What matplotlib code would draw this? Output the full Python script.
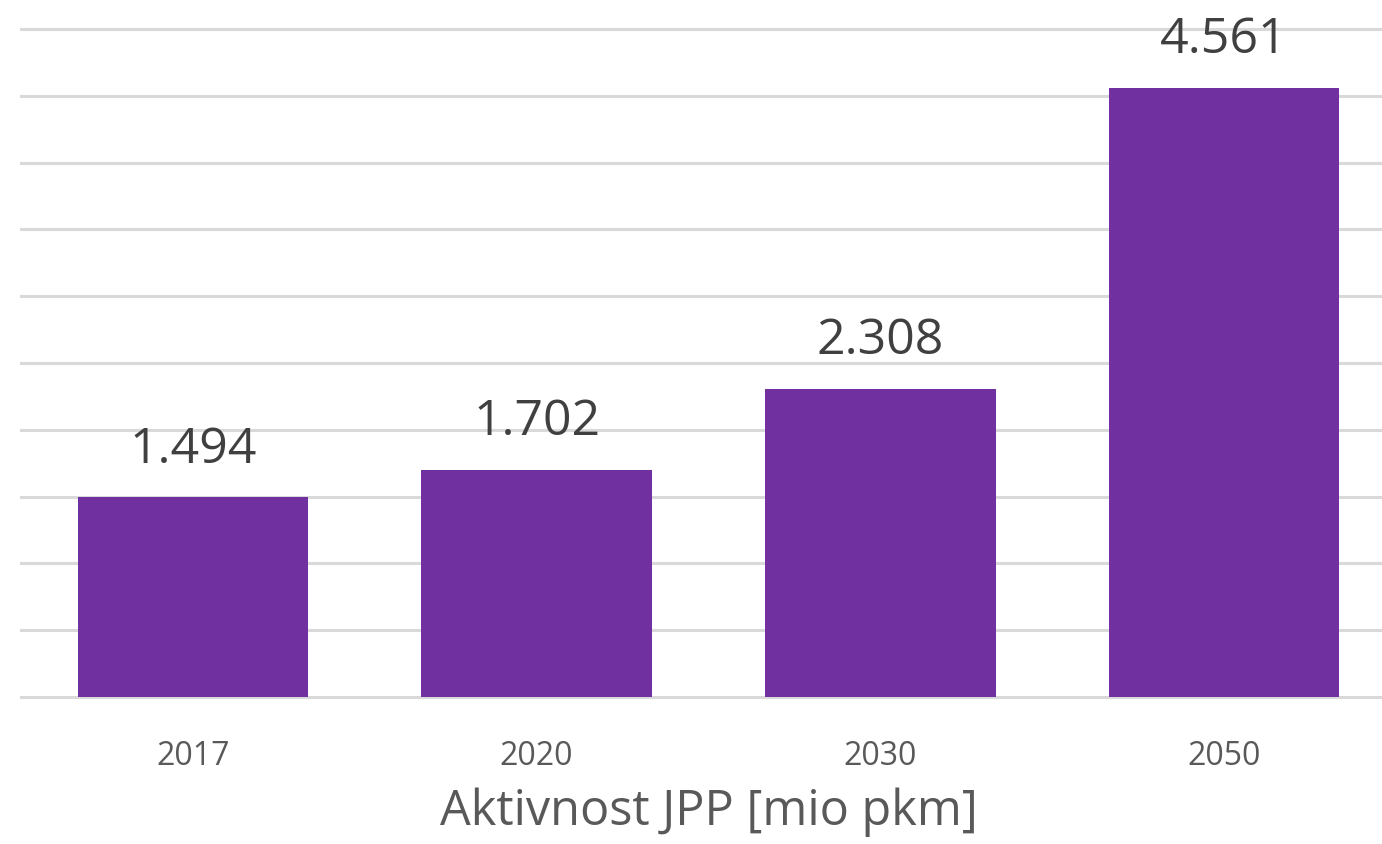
import matplotlib
matplotlib.use("Agg")
import matplotlib.pyplot as plt

categories = ["2017", "2020", "2030", "2050"]
values = [1.494, 1.702, 2.308, 4.561]
value_labels = ["1.494", "1.702", "2.308", "4.561"]
x_title = "Aktivnost JPP [mio pkm]"

plt.rcParams['font.family'] = ['Open Sans', 'DejaVu Sans']

W, H = 1382, 845
fig = plt.figure(figsize=(W / 100, H / 100), dpi=100)
left, right, bottom, top = 21, 1396, 698, 30
ax = fig.add_axes([left / W, (H - bottom) / H, (right - left) / W, (bottom - top) / H])

pos = list(range(len(categories)))
bars = ax.bar(pos, values, width=0.67, color="#7030A0", zorder=3)
ax.set_xlim(-0.5, len(categories) - 0.5)
ax.set_ylim(0, 5.0)
ax.set_yticks([i * 0.5 for i in range(11)])
ax.yaxis.grid(True, color="#D9D9D9", linewidth=2.2, zorder=0)
for gl in ax.yaxis.get_gridlines():
    gl.set_clip_on(False)
ax.set_axisbelow(True)
for s in ax.spines.values():
    s.set_visible(False)
ax.tick_params(axis='y', left=False, labelleft=False)
ax.tick_params(axis='x', bottom=False, labelsize=23, labelcolor="#595959", pad=27)
ax.set_xticks(pos)
ax.set_xticklabels(categories)

for b, lab in zip(bars, value_labels):
    ax.annotate(lab, (b.get_x() + b.get_width() / 2, b.get_height()),
                xytext=(0, 17), textcoords="offset points",
                ha="center", va="bottom", fontsize=36, color="#404040")

ax.set_xlabel(x_title, fontsize=35, color="#595959", labelpad=10)

fig.savefig("out.png", dpi=100, facecolor="white")
